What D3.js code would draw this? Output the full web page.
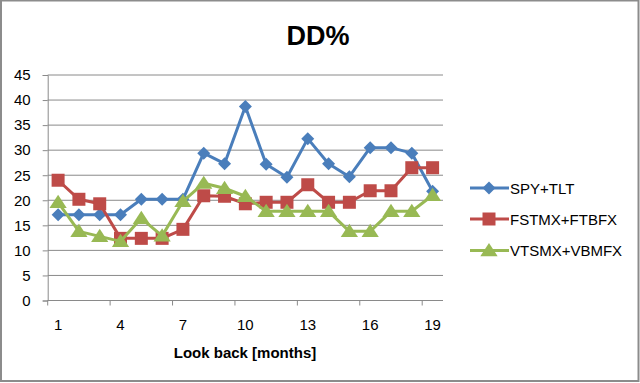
<!DOCTYPE html>
<html><head><meta charset="utf-8">
<script src="https://cdn.jsdelivr.net/npm/d3@7"></script>
<style>html,body{margin:0;padding:0;background:#fff;}svg{display:block;}</style>
</head><body>
<svg id="c" width="640" height="383"></svg>
<script>
const months = d3.range(1, 20);
const tickLabels = [1, 4, 7, 10, 13, 16, 19];
const yTicks = [0, 5, 10, 15, 20, 25, 30, 35, 40, 45];
const spyTlt = [17.1, 17.1, 17.1, 17.1, 20.2, 20.2, 20.2, 29.4, 27.3, 38.7, 27.2, 24.6, 32.3, 27.3, 24.7, 30.5, 30.5, 29.4, 21.8];
const fstmxFtbfx = [24.0, 20.2, 19.3, 12.4, 12.4, 12.4, 14.2, 20.9, 20.8, 19.3, 19.6, 19.6, 23.1, 19.6, 19.6, 21.9, 21.9, 26.5, 26.5];
const vtsmxVbmfx = [19.6, 13.8, 12.8, 11.8, 16.4, 12.9, 19.8, 23.4, 22.4, 20.8, 17.8, 17.8, 17.8, 17.8, 13.8, 13.8, 17.8, 17.8, 21.0];
const seriesNames = ["SPY+TLT", "FSTMX+FTBFX", "VTSMX+VBMFX"];
const colors = ["#4a7ebb", "#be4b48", "#98b954"];
const shapes = ["diamond", "square", "triangle"];
const seriesData = [spyTlt, fstmxFtbfx, vtsmxVbmfx];

const svg = d3.select("#c");
const font = "'Liberation Sans', Arial, sans-serif";

// outer frame
svg.append("rect").attr("x", 1).attr("y", 0.5).attr("width", 637.5).attr("height", 380.5)
  .attr("fill", "#fff").attr("stroke", "#8c8c8c").attr("stroke-width", 2);

const pLeft = 47.7, pRight = 443, pTop = 75, pBottom = 300.5;
const x = d3.scaleBand().domain(months).range([pLeft, pRight]);
const y = d3.scaleLinear().domain([0, 45]).range([pBottom, pTop]);

// gridlines
svg.append("g").selectAll("line").data(yTicks).join("line")
  .attr("x1", pLeft).attr("x2", pRight)
  .attr("y1", d => y(d)).attr("y2", d => y(d))
  .attr("stroke", "#8a8a8a").attr("stroke-width", 1);

// y axis
const yAxis = d3.axisLeft(y).tickValues(yTicks).tickSize(5).tickPadding(12);
const yg = svg.append("g").attr("transform", `translate(${pLeft},0)`).call(yAxis);
yg.select(".domain").attr("stroke", "#8a8a8a");
yg.selectAll(".tick line").attr("stroke", "#8a8a8a");
yg.selectAll("text").attr("font-family", font).attr("font-size", 15).attr("fill", "#000");

// x axis
const xg = svg.append("g").attr("transform", `translate(0,${pBottom})`);
xg.append("line").attr("x1", pLeft).attr("x2", pRight).attr("y1", 0).attr("y2", 0).attr("stroke", "#8a8a8a");
const tickPositions = months.filter(m => (m - 1) % 3 === 0).map(m => x(m));
xg.selectAll("line.t").data(tickPositions).join("line").attr("class", "t")
  .attr("x1", d => d).attr("x2", d => d).attr("y1", 0).attr("y2", 5).attr("stroke", "#8a8a8a");
xg.selectAll("text").data(tickLabels).join("text")
  .attr("x", d => x(d) + x.bandwidth() / 2).attr("y", 29.5)
  .attr("text-anchor", "middle").attr("font-family", font).attr("font-size", 15).attr("fill", "#000")
  .text(d => d);

// title
svg.append("text").attr("x", 318).attr("y", 45).attr("text-anchor", "middle")
  .attr("font-family", font).attr("font-weight", "bold").attr("font-size", 27).text("DD%");
svg.append("text").attr("x", 245).attr("y", 358).attr("text-anchor", "middle")
  .attr("font-family", font).attr("font-weight", "bold").attr("font-size", 15).text("Look back [months]");

const diamondType = { draw(ctx, r) { ctx.moveTo(0, -r); ctx.lineTo(r, 0); ctx.lineTo(0, r); ctx.lineTo(-r, 0); ctx.closePath(); } };
const squareType = { draw(ctx, r) { ctx.rect(-r, -r, 2 * r, 2 * r); } };
const triangleType = { draw(ctx, r) { ctx.moveTo(0, -r); ctx.lineTo(r * 1.15, r * 0.75); ctx.lineTo(-r * 1.15, r * 0.75); ctx.closePath(); } };
const symbols = {
  diamond: d3.symbol().type(diamondType).size(6.5),
  square: d3.symbol().type(squareType).size(6.5),
  triangle: d3.symbol().type(triangleType).size(7.5)
};

const line = d3.line().x((d, i) => x(months[i]) + x.bandwidth() / 2).y(d => y(d));
seriesData.forEach((vals, si) => {
  const g = svg.append("g");
  g.append("path").attr("d", line(vals)).attr("fill", "none")
    .attr("stroke", colors[si]).attr("stroke-width", 3).attr("stroke-linejoin", "round");
  g.selectAll("path.m").data(vals).join("path").attr("class", "m")
    .attr("d", symbols[shapes[si]])
    .attr("transform", (d, i) => `translate(${x(months[i]) + x.bandwidth() / 2},${y(d)})`)
    .attr("fill", colors[si]);
});

// legend
const ly = [188, 219, 250.5];
seriesNames.forEach((n, i) => {
  const g = svg.append("g").attr("transform", `translate(0,${ly[i]})`);
  g.append("line").attr("x1", 470).attr("x2", 509).attr("stroke", colors[i]).attr("stroke-width", 3);
  g.append("path").attr("d", symbols[shapes[i]]).attr("transform", "translate(489,0)").attr("fill", colors[i]);
  g.append("text").attr("x", 510).attr("y", 5.5).attr("font-family", font).attr("font-size", 15).text(n);
});
</script>
</body></html>
